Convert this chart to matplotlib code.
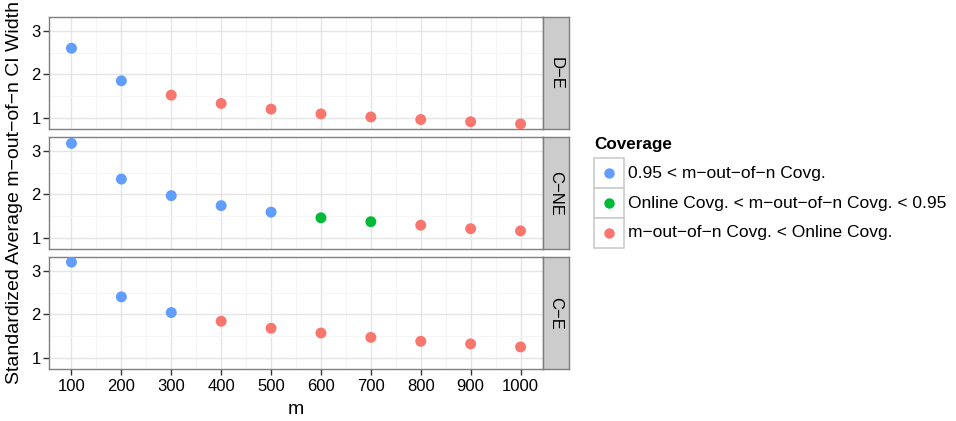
import matplotlib
matplotlib.use("Agg")
import matplotlib.pyplot as plt
from matplotlib.patches import Rectangle
from matplotlib.lines import Line2D
import numpy as np

plt.rcParams['font.family'] = ['Liberation Sans', 'DejaVu Sans']

m_values = [100, 200, 300, 400, 500, 600, 700, 800, 900, 1000]
panels = ["D\u2212E", "C\u2212NE", "C\u2212E"]
width_de = [2.60, 1.85, 1.52, 1.33, 1.20, 1.09, 1.02, 0.96, 0.91, 0.86]
width_cne = [3.17, 2.35, 1.97, 1.74, 1.59, 1.46, 1.37, 1.29, 1.21, 1.16]
width_ce = [3.20, 2.40, 2.04, 1.84, 1.68, 1.57, 1.47, 1.38, 1.32, 1.25]
cov_de = [0, 0, 2, 2, 2, 2, 2, 2, 2, 2]
cov_cne = [0, 0, 0, 0, 0, 1, 1, 2, 2, 2]
cov_ce = [0, 0, 0, 2, 2, 2, 2, 2, 2, 2]
coverage_labels = ["0.95 < m\u2212out\u2212of\u2212n Covg.",
                   "Online Covg. < m\u2212out\u2212of\u2212n Covg. < 0.95",
                   "m\u2212out\u2212of\u2212n Covg. < Online Covg."]
coverage_colors = ["#619CFF", "#00BA38", "#F8766D"]
y_ticks = [1, 2, 3]
x_ticks = m_values

W, H = 956, 421
fig = plt.figure(figsize=(W / 100, H / 100), dpi=100)

def fx(px):
    return px / W

def fy(py):
    return 1 - py / H

all_y = np.array(width_de + width_cne + width_ce)
ypad = (all_y.max() - all_y.min()) * 0.05
ylim = (all_y.min() - ypad, all_y.max() + ypad)
xpad = (max(m_values) - min(m_values)) * 0.05
xlim = (min(m_values) - xpad, max(m_values) + xpad)

panel_tops = [17, 137, 257]
panel_h = 112
left, right = 49, 543
strip_w = 26
border = "#7F7F7F"

data = [(width_de, cov_de), (width_cne, cov_cne), (width_ce, cov_ce)]
for i, (top, name, (ys, cs)) in enumerate(zip(panel_tops, panels, data)):
    ax = fig.add_axes([fx(left), fy(top + panel_h), fx(right - left), panel_h / H])
    ax.set_xlim(*xlim)
    ax.set_ylim(*ylim)
    ax.set_xticks(x_ticks)
    ax.set_xticks([(a + b) / 2 for a, b in zip(x_ticks[:-1], x_ticks[1:])], minor=True)
    ax.set_yticks(y_ticks)
    ax.set_yticks([1.5, 2.5], minor=True)
    ax.grid(which='major', color='#E5E5E5', linewidth=1.0)
    ax.grid(which='minor', color='#F5F5F5', linewidth=0.8)
    ax.set_axisbelow(True)
    for s in ax.spines.values():
        s.set_color(border)
        s.set_linewidth(1.0)
    cols = [coverage_colors[c] for c in cs]
    ax.scatter(m_values, ys, c=cols, s=62, linewidths=0, zorder=3)
    ax.tick_params(axis='y', which='major', length=4, width=1, color='#333333',
                   labelsize=12, pad=2)
    ax.tick_params(which='minor', length=0)
    if i < 2:
        ax.tick_params(axis='x', which='major', length=0, labelbottom=False)
    else:
        ax.tick_params(axis='x', which='major', length=4, width=1, color='#333333',
                       labelsize=12, pad=3)
    # strip
    sax = fig.add_axes([fx(right), fy(top + panel_h), fx(strip_w), panel_h / H])
    sax.set_xticks([])
    sax.set_yticks([])
    sax.set_facecolor('#CCCCCC')
    for s in sax.spines.values():
        s.set_color(border)
        s.set_linewidth(1.0)
    sax.text(0.5, 0.5, name, rotation=-90, ha='center', va='center',
             fontsize=12, transform=sax.transAxes)

fig.text(fx(15), fy((17 + 369) / 2), "Standardized Average m\u2212out\u2212of\u2212n CI Width",
         rotation=90, ha='center', va='center', fontsize=14)
fig.text(fx((left + right) / 2), fy(410), "m", ha='center', va='center', fontsize=14)

# legend
fig.text(fx(594), fy(145), "Coverage", ha='left', va='center', fontsize=12.3,
         fontweight='bold')
key_top = 158
key_h = 30
for k, (lab, col) in enumerate(zip(coverage_labels, coverage_colors)):
    y0 = key_top + k * key_h
    fig.add_artist(Rectangle((fx(594), fy(y0 + key_h)), fx(30), key_h / H,
                             facecolor='white', edgecolor='#CCCCCC', linewidth=1.2,
                             transform=fig.transFigure))
    fig.add_artist(Line2D([fx(609)], [fy(y0 + key_h / 2)], marker='o', markersize=7.5,
                          color=col, markeredgewidth=0, linestyle='none',
                          transform=fig.transFigure))
    fig.text(fx(628), fy(y0 + key_h / 2), lab, ha='left', va='center', fontsize=12.5)

fig.savefig("out.png", dpi=100)
